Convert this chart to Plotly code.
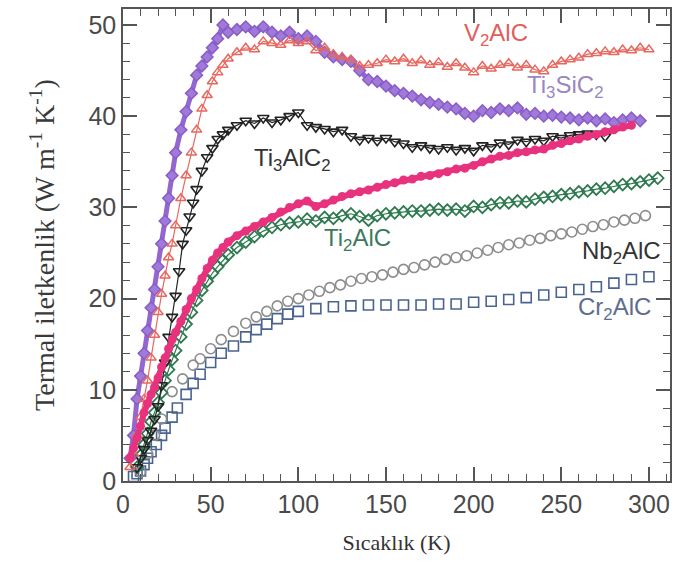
import plotly.graph_objects as go

# ---------------- data ----------------
T_v2alc = [4, 6, 8, 10, 12, 14, 16, 18, 20, 22, 24, 26, 28, 30, 33, 36, 39, 42, 45, 48, 51, 54, 57, 60,
           65, 70, 75, 80, 85, 90, 95, 100, 105, 110, 115, 120, 125, 130, 135, 140, 145, 150, 155, 160,
           165, 170, 175, 180, 185, 190, 195, 200, 205, 210, 215, 220, 225, 230, 235, 240, 245, 250, 255,
           260, 265, 270, 275, 280, 285, 290, 295, 300]
k_v2alc = [1.5, 3, 5, 7, 9, 11, 13.5, 16, 18.5, 20.5, 22.5, 24.5, 26, 28, 31, 33.5, 36, 38.5, 40.8, 42.3, 43.8, 44.8, 45.6, 46.3,
           47, 47.5, 47.3, 48.2, 48, 47.8, 48.3, 48, 48.2, 47.2, 47.5, 46.8, 46.5, 46.2, 45.5, 45.6, 45.8, 46.2, 46.0, 46.3,
           45.8, 46.1, 45.6, 45.9, 45.4, 45.8, 45.3, 44.8, 45.5, 45.2, 45.6, 45.8, 45.3, 45.6, 45.1, 44.9, 45.6, 46.0, 46.2,
           46.4, 46.8, 46.9, 47.1, 47.0, 47.3, 47.2, 47.5, 47.3]

T_ti3sic2 = [4, 6, 8, 10, 12, 14, 16, 18, 20, 22, 24, 26, 28, 30, 33, 36, 39, 42, 45, 48, 51, 54, 57, 60,
             65, 70, 75, 80, 85, 90, 95, 100, 105, 110, 115, 120, 125, 130, 135, 140, 145, 150, 155, 160,
             165, 170, 175, 180, 185, 190, 195, 200, 205, 210, 215, 220, 225, 230, 235, 240, 245, 250, 255,
             260, 265, 270, 275, 280, 285, 290, 295]
k_ti3sic2 = [2.5, 5, 9, 11.5, 14, 16.5, 19, 21, 23.5, 26, 28.5, 31, 33.5, 36, 38.5, 40.5, 42.5, 44.5, 45.5, 46.5, 47.5, 48.5, 50, 49.2,
             49.5, 49.8, 49.3, 49.8, 49.2, 48.8, 49.2, 48.5, 48.8, 48.2, 47.0, 46.5, 46.2, 46.0, 45.0, 44.0, 43.8, 43.3, 42.8, 42.5,
             42.2, 41.8, 41.5, 41.3, 41.0, 40.8, 40.3, 40.0, 40.6, 40.4, 40.8, 40.6, 40.9, 40.2, 40.3, 40.0, 40.1, 39.9, 39.8,
             39.6, 39.8, 39.5, 39.7, 39.3, 39.6, 39.8, 39.5]

T_ti3alc2 = [8, 10, 12, 14, 16, 18, 20, 22, 24, 26, 28, 30, 32, 34, 36, 38, 40, 42, 45, 48, 51, 54, 57, 60,
             65, 70, 75, 80, 85, 90, 95, 100, 105, 110, 115, 120, 125, 130, 135, 140, 145, 150, 155, 160,
             165, 170, 175, 180, 185, 190, 195, 200, 205, 210, 215, 220, 225, 230, 235, 240, 245, 250, 255,
             260, 265, 270, 275]
k_ti3alc2 = [1.5, 2.5, 3.5, 4.5, 5.5, 6.8, 8.2, 10.5, 13, 15.8, 18, 20.3, 23, 26, 27.5, 29, 30.5, 32, 34, 35.5, 36.5, 37.5, 38, 38.5,
             39, 39.5, 39.2, 39.8, 39.3, 39.6, 40.0, 40.4, 39.0, 38.8, 38.6, 38.3, 38.5, 37.8, 37.4, 37.6, 37.3, 37.6, 37.2, 37.0,
             36.6, 36.8, 36.5, 36.4, 36.6, 36.3, 36.5, 36.2, 36.8, 36.6, 37.1, 36.9, 37.4, 37.2, 37.5, 37.3, 37.8, 37.6, 37.9,
             38.0, 38.1, 38.0, 37.8]

T_pink = [4, 6, 8, 10, 12, 14, 16, 18, 20, 22, 24, 26, 28, 30, 33, 36, 39, 42, 45, 48, 51, 54, 57, 60,
          65, 70, 75, 80, 85, 90, 95, 100, 105, 110, 115, 120, 125, 130, 135, 140, 145, 150, 155, 160,
          165, 170, 175, 180, 185, 190, 195, 200, 205, 210, 215, 220, 225, 230, 235, 240, 245, 250, 255,
          260, 265, 270, 275, 280, 285, 290]
k_pink = [2.5, 3.6, 4.7, 6, 7.5, 8.5, 9.5, 10.3, 11.3, 12.5, 13.5, 14.5, 15.5, 16.3, 17.5, 18.8, 20, 21, 22.2, 23.3, 24.2, 25, 25.6, 26.2,
          26.9, 27.4, 27.9, 28.4, 28.9, 29.5, 30.0, 30.4, 30.7, 30.1, 30.4, 30.8, 31.2, 31.5, 31.7, 31.9, 32.2, 32.5, 32.7, 33.0,
          33.1, 33.4, 33.5, 33.7, 33.9, 34.2, 34.3, 34.6, 35.0, 35.3, 35.6, 35.7, 36.0, 36.1, 36.3, 36.4, 36.8, 37.0, 37.3,
          37.5, 37.8, 38.0, 38.3, 38.5, 38.8, 39.0]

T_ti2alc = [8, 10, 12, 14, 16, 18, 20, 22, 24, 26, 28, 30, 33, 36, 39, 42, 45, 48, 51, 54, 57, 60,
            65, 70, 75, 80, 85, 90, 95, 100, 105, 110, 115, 120, 125, 130, 135, 140, 145, 150, 155, 160,
            165, 170, 175, 180, 185, 190, 195, 200, 205, 210, 215, 220, 225, 230, 235, 240, 245, 250, 255,
            260, 265, 270, 275, 280, 285, 290, 295, 300, 305]
k_ti2alc = [1.5, 2.8, 4, 5.2, 6.5, 7.5, 8.6, 9.7, 11, 12.2, 13.3, 14.3, 15.8, 17.2, 18.5, 19.8, 20.9, 21.9, 22.8, 23.5, 24.2, 24.8,
            25.6, 26.2, 26.8, 27.4, 27.8, 28.1, 28.3, 28.4, 28.7, 28.5, 28.9, 28.8, 29.1, 29.3, 29.0, 28.6, 29.1, 29.3, 29.4, 29.5,
            29.6, 29.6, 29.7, 29.8, 29.7, 29.8, 29.6, 30.1, 30.0, 30.3, 30.5, 30.5, 30.7, 30.6, 30.9, 31.1, 31.2, 31.4, 31.5,
            31.7, 31.8, 32.0, 32.1, 32.3, 32.5, 32.6, 32.8, 33.0, 33.2]

T_nb2alc = [10, 14, 18, 22, 28, 34, 40, 44, 50, 56, 63, 70, 76, 82, 88, 94, 100, 106, 112, 118, 124, 130,
            136, 142, 148, 154, 160, 166, 172, 178, 184, 190, 196, 202, 208, 214, 220, 226, 232, 238, 244,
            250, 256, 262, 268, 274, 280, 286, 292, 298]
k_nb2alc = [1, 3, 5, 6.8, 9.8, 11.2, 12.7, 13.4, 14.5, 15.5, 16.4, 17.3, 18, 18.6, 19.2, 19.7, 20, 20.4, 20.8, 21.2, 21.5, 21.9,
            22.2, 22.4, 22.6, 22.9, 23.2, 23.4, 23.7, 24.0, 24.3, 24.5, 24.7, 25.0, 25.3, 25.6, 25.9, 26.1, 26.4, 26.6, 26.9,
            27.1, 27.3, 27.6, 27.9, 28.1, 28.4, 28.6, 28.8, 29.1]

T_cr2alc = [6, 8, 10, 12, 14, 16, 19, 22, 24, 28, 31, 36, 40, 44, 50, 56, 63, 70, 76, 82, 88, 94, 100,
            110, 120, 130, 140, 150, 160, 170, 180, 190, 200, 210, 220, 230, 240, 250, 260, 270, 280, 290, 300]
k_cr2alc = [0.5, 0.8, 1.1, 1.8, 2.5, 3.2, 4, 5, 5.8, 7, 8, 9.5, 10.7, 11.7, 13, 14, 14.8, 15.8, 16.6, 17.2, 17.8, 18.3, 18.6,
            18.9, 19.1, 19.2, 19.3, 19.3, 19.3, 19.3, 19.4, 19.4, 19.6, 19.7, 19.9, 20.1, 20.4, 20.7, 21.0, 21.3, 21.7, 22.1, 22.4]

x_ticks = [0, 50, 100, 150, 200, 250, 300]
y_ticks = [0, 10, 20, 30, 40, 50]

# ---------------- figure ----------------
fig = go.Figure()

fig.add_trace(go.Scatter(x=T_cr2alc, y=k_cr2alc, mode="markers",
                         marker=dict(symbol="square-open", size=10, color="#4a6491", line=dict(width=1.6))))
fig.add_trace(go.Scatter(x=T_nb2alc, y=k_nb2alc, mode="markers",
                         marker=dict(symbol="circle-open", size=10, color="#8c8c8c", line=dict(width=1.6))))
fig.add_trace(go.Scatter(x=T_ti2alc, y=k_ti2alc, mode="lines+markers",
                         line=dict(color="#2f7a50", width=1.2),
                         marker=dict(symbol="diamond-open", size=9, color="#2f7a50", line=dict(width=1.8))))
fig.add_trace(go.Scatter(x=T_ti3alc2, y=k_ti3alc2, mode="lines+markers",
                         line=dict(color="#222222", width=1.2),
                         marker=dict(symbol="triangle-down-open", size=10, color="#222222", line=dict(width=1.6))))
fig.add_trace(go.Scatter(x=T_ti3sic2, y=k_ti3sic2, mode="lines+markers",
                         line=dict(color="#9466d0", width=5),
                         marker=dict(symbol="diamond", size=9, color="#a07ad8",
                                     line=dict(color="#8a5cc8", width=1.5))))
fig.add_trace(go.Scatter(x=T_v2alc, y=k_v2alc, mode="lines+markers",
                         line=dict(color="#e8675e", width=1.2),
                         marker=dict(symbol="triangle-up-open", size=9, color="#e8675e", line=dict(width=1.5))))
fig.add_trace(go.Scatter(x=T_pink, y=k_pink, mode="lines+markers",
                         line=dict(color="#e8327d", width=6),
                         marker=dict(symbol="circle", size=9, color="#e8327d")))

label_font = "Liberation Sans, Arial, sans-serif"
labels = [
    ("V<sub>2</sub>AlC", 213, 49.0, "#e0605a"),
    ("Ti<sub>3</sub>SiC<sub>2</sub>", 252, 43.2, "#9a86c0"),
    ("Ti<sub>3</sub>AlC<sub>2</sub>", 96.4, 35.3, "#333333"),
    ("Ti<sub>2</sub>AlC", 133.5, 26.5, "#3d7a5c"),
    ("Nb<sub>2</sub>AlC", 284.6, 25.0, "#333333"),
    ("Cr<sub>2</sub>AlC", 280.6, 18.9, "#5d6e8c"),
]
for txt, xx, yy, col in labels:
    fig.add_annotation(x=xx, y=yy, xref="x", yref="y", text=txt, showarrow=False,
                       font=dict(family=label_font, size=24, color=col))

axis_common = dict(
    showgrid=False, zeroline=False, showline=True, linecolor="#555555", linewidth=1.5,
    mirror="ticks", ticks="inside", ticklen=14, tickwidth=1.5, tickcolor="#555555",
    tickfont=dict(family=label_font, size=25, color="#4a4a4a"),
)

fig.update_xaxes(range=[0, 312], tickvals=x_ticks,
                 minor=dict(dtick=10, ticks="inside", ticklen=7, tickwidth=1.3, tickcolor="#555555"),
                 title=dict(text="Sıcaklık (K)", font=dict(family="Liberation Serif, Times New Roman, serif", size=22, color="#333333"), standoff=18),
                 **axis_common)
fig.update_yaxes(range=[0, 51.75], tickvals=y_ticks,
                 minor=dict(dtick=2, ticks="inside", ticklen=7, tickwidth=1.3, tickcolor="#555555"),
                 title=dict(text="Termal iletkenlik (W m<sup>-1</sup> K<sup>-1</sup>)", font=dict(family="Liberation Serif, Times New Roman, serif", size=28, color="#3a3a3a"), standoff=26),
                 **axis_common)

fig.update_layout(
    width=681, height=565,
    margin=dict(l=123, r=11, t=7, b=84),
    paper_bgcolor="white", plot_bgcolor="white",
    showlegend=False,
)

fig.write_html("out.html")
